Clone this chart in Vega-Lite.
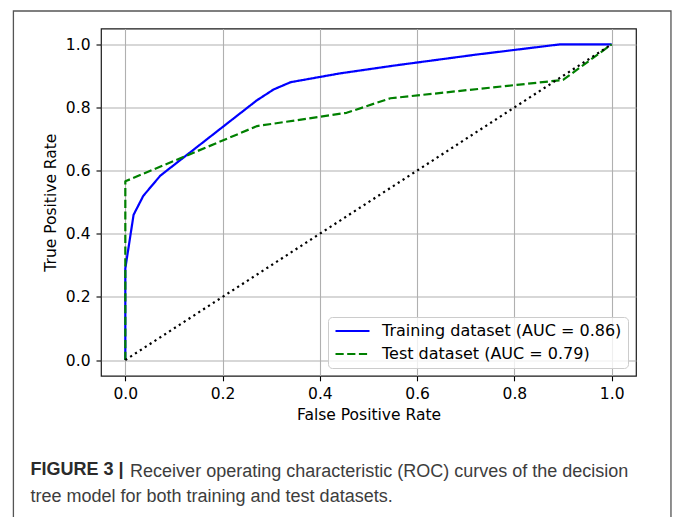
{
  "$schema": "https://vega.github.io/schema/vega-lite/v6.json",
  "autosize": {"type": "none"},
  "width": 535,
  "height": 347.3,
  "padding": {"left": 101, "top": 28.5, "right": 37, "bottom": 141.2},
  "background": "white",
  "datasets": {
    "roc": [
      {"series": "Training dataset (AUC = 0.86)", "k": 0, "fpr": 0, "tpr": 0},
      {"series": "Training dataset (AUC = 0.86)", "k": 1, "fpr": 0, "tpr": 0.29},
      {"series": "Training dataset (AUC = 0.86)", "k": 2, "fpr": 0.017, "tpr": 0.46},
      {"series": "Training dataset (AUC = 0.86)", "k": 3, "fpr": 0.037, "tpr": 0.52},
      {"series": "Training dataset (AUC = 0.86)", "k": 4, "fpr": 0.072, "tpr": 0.584},
      {"series": "Training dataset (AUC = 0.86)", "k": 5, "fpr": 0.27, "tpr": 0.822},
      {"series": "Training dataset (AUC = 0.86)", "k": 6, "fpr": 0.305, "tpr": 0.857},
      {"series": "Training dataset (AUC = 0.86)", "k": 7, "fpr": 0.34, "tpr": 0.88},
      {"series": "Training dataset (AUC = 0.86)", "k": 8, "fpr": 0.442, "tpr": 0.908},
      {"series": "Training dataset (AUC = 0.86)", "k": 9, "fpr": 0.55, "tpr": 0.932},
      {"series": "Training dataset (AUC = 0.86)", "k": 10, "fpr": 0.72, "tpr": 0.967},
      {"series": "Training dataset (AUC = 0.86)", "k": 11, "fpr": 0.895, "tpr": 1.0},
      {"series": "Training dataset (AUC = 0.86)", "k": 12, "fpr": 1.0, "tpr": 1.0},
      {"series": "Test dataset (AUC = 0.79)", "k": 0, "fpr": 0, "tpr": 0},
      {"series": "Test dataset (AUC = 0.79)", "k": 1, "fpr": 0, "tpr": 0.566},
      {"series": "Test dataset (AUC = 0.79)", "k": 2, "fpr": 0.271, "tpr": 0.741},
      {"series": "Test dataset (AUC = 0.79)", "k": 3, "fpr": 0.455, "tpr": 0.783},
      {"series": "Test dataset (AUC = 0.79)", "k": 4, "fpr": 0.545, "tpr": 0.829},
      {"series": "Test dataset (AUC = 0.79)", "k": 5, "fpr": 0.9, "tpr": 0.887},
      {"series": "Test dataset (AUC = 0.79)", "k": 6, "fpr": 1.0, "tpr": 1.0}
    ],
    "chance": [
      {"k": 0, "fpr": 0, "tpr": 0},
      {"k": 1, "fpr": 1, "tpr": 1}
    ],
    "frame": [{"item": "figure frame"}]
  },
  "title": {
    "text": "FIGURE 3 |",
    "subtitle": "tree model for both training and test datasets.",
    "orient": "bottom",
    "anchor": "start",
    "frame": "bounds",
    "baseline": "top",
    "offset": -63.7,
    "dx": 17.7,
    "font": "Liberation Sans",
    "fontSize": 18,
    "fontWeight": "bold",
    "color": "#2b2b2b",
    "subtitleFont": "Liberation Sans",
    "subtitleFontSize": 18,
    "subtitleFontWeight": "normal",
    "subtitleColor": "#3d3d3d",
    "subtitleLineHeight": 27,
    "subtitlePadding": 9
  },
  "resolve": {"scale": {"x": "independent"}, "axis": {"x": "independent"}},
  "layer": [
    {
      "data": {"name": "frame"},
      "mark": {"type": "rect", "clip": false, "filled": false, "stroke": "#555555", "strokeWidth": 1.3, "fillOpacity": 0},
      "encoding": {
        "x": {"datum": -0.2301, "type": "quantitative", "scale": {"domain": [-0.05, 1.05], "nice": false, "zero": false},
              "axis": {"orient": "bottom", "labels": false, "ticks": false, "grid": false, "domain": false,
                       "title": "Receiver operating characteristic (ROC) curves of the decision",
                       "titleX": 28.6, "titleY": 100.2, "titleAlign": "left", "titleAnchor": "start", "titleBaseline": "alphabetic", "titleAngle": 0,
                       "titleFont": "Liberation Sans", "titleFontSize": 18, "titleFontWeight": "normal", "titleColor": "#3d3d3d", "titleLimit": 0}},
        "x2": {"datum": 1.1219},
        "y": {"datum": 1.1055, "type": "quantitative", "scale": {"domain": [-0.05, 1.05], "nice": false, "zero": false}},
        "y2": {"datum": -0.52}
      }
    },
    {
      "layer": [
        {
          "data": {"name": "roc"},
          "transform": [{"filter": "datum.series === 'Training dataset (AUC = 0.86)'"}],
          "mark": {"type": "line", "strokeWidth": 2.2, "strokeCap": "butt", "strokeJoin": "round"},
          "encoding": {
            "x": {"field": "fpr", "type": "quantitative", "scale": {"domain": [-0.05, 1.05], "nice": false, "zero": false},
                  "axis": {"orient": "bottom", "grid": true, "title": "False Positive Rate", "values": [0, 0.2, 0.4, 0.6, 0.8, 1.0], "format": ".1f", "labelOverlap": false, "labelFlush": false}},
            "y": {"field": "tpr", "type": "quantitative", "scale": {"domain": [-0.05, 1.05], "nice": false, "zero": false},
                  "axis": {"grid": true, "title": "True Positive Rate", "values": [0, 0.2, 0.4, 0.6, 0.8, 1.0], "format": ".1f", "labelOverlap": false, "labelFlush": false, "titlePadding": 7}},
            "order": {"field": "k", "type": "quantitative"},
            "color": {"field": "series", "type": "nominal",
                      "scale": {"domain": ["Training dataset (AUC = 0.86)", "Test dataset (AUC = 0.79)"], "range": ["#0000ff", "#008000"]},
                      "legend": {"title": null, "orient": "none", "legendX": 227, "legendY": 288.5}},
            "strokeDash": {"field": "series", "type": "nominal",
                      "scale": {"domain": ["Training dataset (AUC = 0.86)", "Test dataset (AUC = 0.79)"], "range": [[1, 0], [8.2, 3.5]]},
                      "legend": {"title": null, "orient": "none", "legendX": 227, "legendY": 288.5}}
          }
        },
        {
          "data": {"name": "roc"},
          "transform": [{"filter": "datum.series === 'Test dataset (AUC = 0.79)'"}],
          "mark": {"type": "line", "strokeWidth": 2.2, "strokeCap": "butt", "strokeJoin": "round"},
          "encoding": {
            "x": {"field": "fpr", "type": "quantitative"},
            "y": {"field": "tpr", "type": "quantitative"},
            "order": {"field": "k", "type": "quantitative"},
            "color": {"field": "series", "type": "nominal"},
            "strokeDash": {"field": "series", "type": "nominal"}
          }
        },
        {
          "data": {"name": "chance"},
          "mark": {"type": "line", "color": "#000000", "strokeWidth": 2.2, "strokeDash": [2.2, 3.6], "strokeCap": "butt"},
          "encoding": {
            "x": {"field": "fpr", "type": "quantitative"},
            "y": {"field": "tpr", "type": "quantitative"},
            "order": {"field": "k", "type": "quantitative"}
          }
        }
      ]
    }
  ],
  "config": {
    "view": {"stroke": "#1a1a1a", "strokeWidth": 1.2},
    "axis": {
      "labelFont": "DejaVu Sans", "labelFontSize": 15.5, "labelColor": "#000000",
      "titleFont": "DejaVu Sans", "titleFontSize": 15.5, "titleFontWeight": "normal", "titleColor": "#000000",
      "tickColor": "#000000", "tickSize": 5, "tickWidth": 1.1,
      "domain": false, "gridColor": "#b0b0b0", "gridWidth": 1.1,
      "labelPadding": 6, "titlePadding": 5
    },
    "legend": {
      "symbolType": "stroke", "symbolSize": 1156, "symbolStrokeWidth": 2.2,
      "clipHeight": 16, "rowPadding": 7, "padding": 6, "labelOffset": 11,
      "labelFont": "DejaVu Sans", "labelFontSize": 16, "labelColor": "#000000", "labelLimit": 0,
      "strokeColor": "#cccccc", "fillColor": "rgba(255,255,255,0.8)", "cornerRadius": 4
    }
  }
}
